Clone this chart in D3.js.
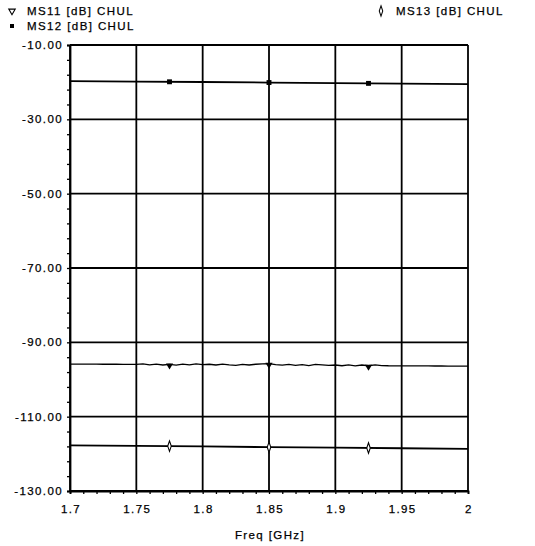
<!DOCTYPE html>
<html><head><meta charset="utf-8">
<script src="https://cdnjs.cloudflare.com/ajax/libs/d3/7.8.5/d3.min.js"></script>
<style>
html,body{margin:0;padding:0;background:#fff;}
text{font-family:"Liberation Sans",Arial,sans-serif;font-size:11.5px;fill:#000;stroke:#000;stroke-width:0.25px;letter-spacing:1.4px;}
</style></head>
<body>
<svg id="chart" width="535" height="546"></svg>
<script>
// ---- data ----
const xTicks = [1.7, 1.75, 1.8, 1.85, 1.9, 1.95, 2.0];
const xTickLabels = ["1.7", "1.75", "1.8", "1.85", "1.9", "1.95", "2"];
const yTicks = [-10, -30, -50, -70, -90, -110, -130];
const yTickLabels = ["-10.00", "-30.00", "-50.00", "-70.00", "-90.00", "-110.00", "-130.00"];
const markerFreqs = [1.775, 1.85, 1.925];

const freqMS11 = [1.700,1.705,1.710,1.715,1.720,1.725,1.730,1.735,1.740,1.745,1.750,1.755,1.760,1.765,1.770,1.775,1.780,1.785,1.790,1.795,1.800,1.805,1.810,1.815,1.820,1.825,1.830,1.835,1.840,1.845,1.850,1.855,1.860,1.865,1.870,1.875,1.880,1.885,1.890,1.895,1.900,1.905,1.910,1.915,1.920,1.925,1.930,1.935,1.940,1.945,1.950,1.955,1.960,1.965,1.970,1.975,1.980,1.985,1.990,1.995,2.000];
const ms11 = [-95.85,-95.86,-95.87,-95.88,-95.88,-95.89,-95.90,-95.90,-95.91,-95.92,-95.92,-95.80,-96.05,-95.85,-96.10,-95.95,-96.15,-95.85,-96.05,-95.80,-96.00,-95.90,-96.10,-95.85,-96.05,-96.20,-95.95,-96.10,-95.90,-95.80,-95.75,-96.00,-96.15,-95.95,-96.20,-96.00,-96.25,-95.95,-96.05,-96.20,-96.10,-96.30,-96.05,-96.35,-96.10,-96.30,-96.05,-96.25,-96.30,-96.31,-96.32,-96.33,-96.34,-96.35,-96.36,-96.37,-96.37,-96.38,-96.39,-96.40,-96.40];

const freqCoarse = [1.7, 1.75, 1.8, 1.85, 1.9, 1.95, 2.0];
const ms12 = [-19.7, -19.85, -19.95, -20.1, -20.25, -20.4, -20.55];
const ms13 = [-117.7, -117.85, -118.0, -118.2, -118.35, -118.5, -118.65];

const legendNames = ["MS11 [dB] CHUL", "MS12 [dB] CHUL", "MS13 [dB] CHUL"];

// ---- layout ----
const L = 70, R = 468, T = 45, B = 491;
const svg = d3.select("#chart");
const x = d3.scaleLinear().domain([1.7, 2.0]).range([L, R]);
const y = d3.scaleLinear().domain([-130, -10]).range([B, T]);

// grid
const g = svg.append("g");
g.selectAll("line.vg").data(xTicks).enter().append("line")
  .attr("x1", d => x(d)).attr("x2", d => x(d)).attr("y1", T).attr("y2", B)
  .attr("stroke", "#000").attr("stroke-width", 1.8);
g.selectAll("line.hg").data(yTicks).enter().append("line")
  .attr("y1", d => y(d)).attr("y2", d => y(d)).attr("x1", L).attr("x2", R)
  .attr("stroke", "#000").attr("stroke-width", 1.8);

// axes with minor ticks
const yMinor = d3.range(-130, -9, 4);
const xMinor = d3.range(0, 31).map(i => 1.7 + i * 0.01);
const yAxis = d3.axisLeft(y).tickValues(yMinor).tickSize(3).tickFormat("");
const xAxis = d3.axisBottom(x).tickValues(xMinor).tickSize(3).tickFormat("");
const ya = svg.append("g").attr("transform", `translate(${L},0)`).call(yAxis);
const xa = svg.append("g").attr("transform", `translate(0,${B})`).call(xAxis);
[ya, xa].forEach(a => {
  a.select(".domain").attr("stroke", "#000").attr("stroke-width", 1.8);
  a.selectAll(".tick line").attr("stroke", "#000").attr("stroke-width", 1.3);
});

// tick labels
svg.selectAll("text.yl").data(yTicks).enter().append("text")
  .attr("x", 63).attr("y", d => y(d) + 4).attr("text-anchor", "end")
  .text((d, i) => yTickLabels[i]);
svg.selectAll("text.xl").data(xTicks).enter().append("text")
  .attr("x", d => x(d) + 1).attr("y", 513).attr("text-anchor", "middle")
  .text((d, i) => xTickLabels[i]);
svg.append("text").attr("x", x(1.85) + 1).attr("y", 539).attr("text-anchor", "middle").text("Freq [GHz]");

// traces
const line = d3.line().x(d => x(d[0])).y(d => y(d[1]));
const s11 = freqMS11.map((f, i) => [f, ms11[i]]);
const s12 = freqCoarse.map((f, i) => [f, ms12[i]]);
const s13 = freqCoarse.map((f, i) => [f, ms13[i]]);
[[s11, 1.3], [s12, 1.8], [s13, 1.8]].forEach(([d, w]) => {
  svg.append("path").datum(d).attr("d", line).attr("fill", "none")
    .attr("stroke", "#000").attr("stroke-width", w);
});

function interp(fs, vs, f) {
  for (let i = 0; i < fs.length - 1; i++) {
    if (f >= fs[i] && f <= fs[i + 1]) {
      const t = (f - fs[i]) / (fs[i + 1] - fs[i]);
      return vs[i] + t * (vs[i + 1] - vs[i]);
    }
  }
  return vs[vs.length - 1];
}

const symTri = d3.symbol().type(d3.symbolTriangle).size(22);
const symSq = d3.symbol().type(d3.symbolSquare).size(24);
const symDia = d3.symbol().type(d3.symbolDiamond).size(22);

markerFreqs.forEach(f => {
  svg.append("path").attr("d", symTri)
    .attr("transform", `translate(${x(f)},${y(interp(freqMS11, ms11, f)) + 1}) rotate(180)`)
    .attr("fill", "#000");
  svg.append("path").attr("d", symSq)
    .attr("transform", `translate(${x(f)},${y(interp(freqCoarse, ms12, f))})`)
    .attr("fill", "#000");
  svg.append("path").attr("d", symDia)
    .attr("transform", `translate(${x(f)},${y(interp(freqCoarse, ms13, f))}) scale(0.7,1.2)`)
    .attr("fill", "#fff").attr("stroke", "#000").attr("stroke-width", 1.4);
});

// legend
svg.append("path").attr("d", d3.symbol().type(d3.symbolTriangle).size(18))
  .attr("transform", "translate(12,11) rotate(180)").attr("fill", "#fff").attr("stroke", "#000").attr("stroke-width", 1.1);
svg.append("text").attr("x", 27).attr("y", 15).text(legendNames[0]);
svg.append("path").attr("d", d3.symbol().type(d3.symbolSquare).size(16))
  .attr("transform", "translate(12,26)").attr("fill", "#000");
svg.append("text").attr("x", 27).attr("y", 30).text(legendNames[1]);
svg.append("path").attr("d", d3.symbol().type(d3.symbolDiamond).size(22))
  .attr("transform", "translate(381,11) scale(0.7,1.2)").attr("fill", "#fff").attr("stroke", "#000").attr("stroke-width", 1.3);
svg.append("text").attr("x", 396).attr("y", 15).text(legendNames[2]);
</script>
</body></html>
